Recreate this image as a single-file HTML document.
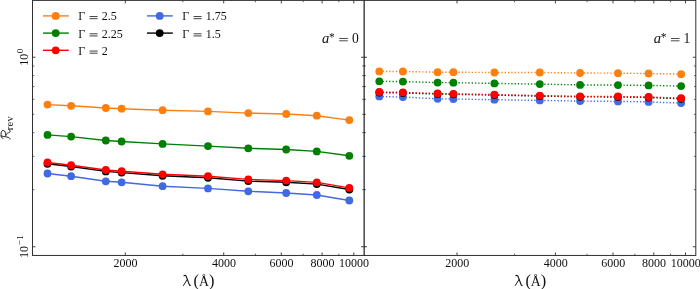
<!DOCTYPE html>
<html><head><meta charset="utf-8"><title>chart</title>
<style>html,body{margin:0;padding:0;background:#fff;}body{width:700px;height:289px;overflow:hidden;}svg{display:block;will-change:transform;}text{font-family:"Liberation Serif",serif;fill:#111;}</style>
</head><body>
<svg width="700" height="289" viewBox="0 0 700 289">
<rect x="0" y="0" width="700" height="289" fill="#ffffff"/>
<polyline points="47.5,104.6 71.1,105.8 105.8,108.0 121.6,108.7 162.6,110.2 208.0,111.4 248.3,113.1 286.2,114.0 316.8,115.7 349.3,120.1" fill="none" stroke="#ff7f0e" stroke-width="1.4"/>
<circle cx="47.5" cy="104.6" r="3.9" fill="#ff7f0e"/>
<circle cx="71.1" cy="105.8" r="3.9" fill="#ff7f0e"/>
<circle cx="105.8" cy="108.0" r="3.9" fill="#ff7f0e"/>
<circle cx="121.6" cy="108.7" r="3.9" fill="#ff7f0e"/>
<circle cx="162.6" cy="110.2" r="3.9" fill="#ff7f0e"/>
<circle cx="208.0" cy="111.4" r="3.9" fill="#ff7f0e"/>
<circle cx="248.3" cy="113.1" r="3.9" fill="#ff7f0e"/>
<circle cx="286.2" cy="114.0" r="3.9" fill="#ff7f0e"/>
<circle cx="316.8" cy="115.7" r="3.9" fill="#ff7f0e"/>
<circle cx="349.3" cy="120.1" r="3.9" fill="#ff7f0e"/>
<polyline points="47.5,134.9 71.1,136.6 105.8,140.5 121.6,141.5 162.6,143.9 208.0,146.1 248.3,148.3 286.2,149.5 316.8,151.4 349.3,155.8" fill="none" stroke="#008000" stroke-width="1.4"/>
<circle cx="47.5" cy="134.9" r="3.9" fill="#008000"/>
<circle cx="71.1" cy="136.6" r="3.9" fill="#008000"/>
<circle cx="105.8" cy="140.5" r="3.9" fill="#008000"/>
<circle cx="121.6" cy="141.5" r="3.9" fill="#008000"/>
<circle cx="162.6" cy="143.9" r="3.9" fill="#008000"/>
<circle cx="208.0" cy="146.1" r="3.9" fill="#008000"/>
<circle cx="248.3" cy="148.3" r="3.9" fill="#008000"/>
<circle cx="286.2" cy="149.5" r="3.9" fill="#008000"/>
<circle cx="316.8" cy="151.4" r="3.9" fill="#008000"/>
<circle cx="349.3" cy="155.8" r="3.9" fill="#008000"/>
<polyline points="47.5,173.5 71.1,176.2 105.8,181.3 121.6,182.3 162.6,186.2 208.0,188.4 248.3,191.3 286.2,193.0 316.8,195.0 349.3,200.5" fill="none" stroke="#4169e1" stroke-width="1.4"/>
<circle cx="47.5" cy="173.5" r="3.9" fill="#4169e1"/>
<circle cx="71.1" cy="176.2" r="3.9" fill="#4169e1"/>
<circle cx="105.8" cy="181.3" r="3.9" fill="#4169e1"/>
<circle cx="121.6" cy="182.3" r="3.9" fill="#4169e1"/>
<circle cx="162.6" cy="186.2" r="3.9" fill="#4169e1"/>
<circle cx="208.0" cy="188.4" r="3.9" fill="#4169e1"/>
<circle cx="248.3" cy="191.3" r="3.9" fill="#4169e1"/>
<circle cx="286.2" cy="193.0" r="3.9" fill="#4169e1"/>
<circle cx="316.8" cy="195.0" r="3.9" fill="#4169e1"/>
<circle cx="349.3" cy="200.5" r="3.9" fill="#4169e1"/>
<polyline points="47.5,163.8 71.1,166.5 105.8,171.4 121.6,172.6 162.6,175.8 208.0,177.8 248.3,181.1 286.2,182.3 316.8,184.1 349.3,189.5" fill="none" stroke="#000000" stroke-width="1.4"/>
<circle cx="47.5" cy="163.8" r="3.9" fill="#000000"/>
<circle cx="71.1" cy="166.5" r="3.9" fill="#000000"/>
<circle cx="105.8" cy="171.4" r="3.9" fill="#000000"/>
<circle cx="121.6" cy="172.6" r="3.9" fill="#000000"/>
<circle cx="162.6" cy="175.8" r="3.9" fill="#000000"/>
<circle cx="208.0" cy="177.8" r="3.9" fill="#000000"/>
<circle cx="248.3" cy="181.1" r="3.9" fill="#000000"/>
<circle cx="286.2" cy="182.3" r="3.9" fill="#000000"/>
<circle cx="316.8" cy="184.1" r="3.9" fill="#000000"/>
<circle cx="349.3" cy="189.5" r="3.9" fill="#000000"/>
<polyline points="47.5,162.5 71.1,165.2 105.8,170.0 121.6,171.2 162.6,174.3 208.0,176.2 248.3,179.4 286.2,180.6 316.8,182.4 349.3,187.9" fill="none" stroke="#ff0000" stroke-width="1.4"/>
<circle cx="47.5" cy="162.5" r="3.9" fill="#ff0000"/>
<circle cx="71.1" cy="165.2" r="3.9" fill="#ff0000"/>
<circle cx="105.8" cy="170.0" r="3.9" fill="#ff0000"/>
<circle cx="121.6" cy="171.2" r="3.9" fill="#ff0000"/>
<circle cx="162.6" cy="174.3" r="3.9" fill="#ff0000"/>
<circle cx="208.0" cy="176.2" r="3.9" fill="#ff0000"/>
<circle cx="248.3" cy="179.4" r="3.9" fill="#ff0000"/>
<circle cx="286.2" cy="180.6" r="3.9" fill="#ff0000"/>
<circle cx="316.8" cy="182.4" r="3.9" fill="#ff0000"/>
<circle cx="349.3" cy="187.9" r="3.9" fill="#ff0000"/>
<polyline points="379.3,71.4 402.9,71.5 437.6,72.2 453.4,72.2 494.4,72.5 539.8,72.5 580.1,73.0 618.0,73.2 648.6,73.5 681.1,74.2" fill="none" stroke="#ff7f0e" stroke-width="1.4" stroke-dasharray="1.3 2.0"/>
<circle cx="379.3" cy="71.4" r="3.9" fill="#ff7f0e"/>
<circle cx="402.9" cy="71.5" r="3.9" fill="#ff7f0e"/>
<circle cx="437.6" cy="72.2" r="3.9" fill="#ff7f0e"/>
<circle cx="453.4" cy="72.2" r="3.9" fill="#ff7f0e"/>
<circle cx="494.4" cy="72.5" r="3.9" fill="#ff7f0e"/>
<circle cx="539.8" cy="72.5" r="3.9" fill="#ff7f0e"/>
<circle cx="580.1" cy="73.0" r="3.9" fill="#ff7f0e"/>
<circle cx="618.0" cy="73.2" r="3.9" fill="#ff7f0e"/>
<circle cx="648.6" cy="73.5" r="3.9" fill="#ff7f0e"/>
<circle cx="681.1" cy="74.2" r="3.9" fill="#ff7f0e"/>
<polyline points="379.3,81.3 402.9,81.6 437.6,82.6 453.4,82.7 494.4,83.4 539.8,84.1 580.1,84.9 618.0,85.1 648.6,85.4 681.1,86.1" fill="none" stroke="#008000" stroke-width="1.4" stroke-dasharray="1.3 2.0"/>
<circle cx="379.3" cy="81.3" r="3.9" fill="#008000"/>
<circle cx="402.9" cy="81.6" r="3.9" fill="#008000"/>
<circle cx="437.6" cy="82.6" r="3.9" fill="#008000"/>
<circle cx="453.4" cy="82.7" r="3.9" fill="#008000"/>
<circle cx="494.4" cy="83.4" r="3.9" fill="#008000"/>
<circle cx="539.8" cy="84.1" r="3.9" fill="#008000"/>
<circle cx="580.1" cy="84.9" r="3.9" fill="#008000"/>
<circle cx="618.0" cy="85.1" r="3.9" fill="#008000"/>
<circle cx="648.6" cy="85.4" r="3.9" fill="#008000"/>
<circle cx="681.1" cy="86.1" r="3.9" fill="#008000"/>
<polyline points="379.3,96.4 402.9,97.1 437.6,98.8 453.4,99.0 494.4,99.7 539.8,100.4 580.1,101.1 618.0,101.4 648.6,101.9 681.1,103.1" fill="none" stroke="#4169e1" stroke-width="1.4" stroke-dasharray="1.3 2.0"/>
<circle cx="379.3" cy="96.4" r="3.9" fill="#4169e1"/>
<circle cx="402.9" cy="97.1" r="3.9" fill="#4169e1"/>
<circle cx="437.6" cy="98.8" r="3.9" fill="#4169e1"/>
<circle cx="453.4" cy="99.0" r="3.9" fill="#4169e1"/>
<circle cx="494.4" cy="99.7" r="3.9" fill="#4169e1"/>
<circle cx="539.8" cy="100.4" r="3.9" fill="#4169e1"/>
<circle cx="580.1" cy="101.1" r="3.9" fill="#4169e1"/>
<circle cx="618.0" cy="101.4" r="3.9" fill="#4169e1"/>
<circle cx="648.6" cy="101.9" r="3.9" fill="#4169e1"/>
<circle cx="681.1" cy="103.1" r="3.9" fill="#4169e1"/>
<polyline points="379.3,92.5 402.9,93.0 437.6,94.0 453.4,94.3 494.4,95.1 539.8,96.1 580.1,96.8 618.0,97.0 648.6,97.5 681.1,98.8" fill="none" stroke="#000000" stroke-width="1.4" stroke-dasharray="1.3 2.0"/>
<circle cx="379.3" cy="92.5" r="3.9" fill="#000000"/>
<circle cx="402.9" cy="93.0" r="3.9" fill="#000000"/>
<circle cx="437.6" cy="94.0" r="3.9" fill="#000000"/>
<circle cx="453.4" cy="94.3" r="3.9" fill="#000000"/>
<circle cx="494.4" cy="95.1" r="3.9" fill="#000000"/>
<circle cx="539.8" cy="96.1" r="3.9" fill="#000000"/>
<circle cx="580.1" cy="96.8" r="3.9" fill="#000000"/>
<circle cx="618.0" cy="97.0" r="3.9" fill="#000000"/>
<circle cx="648.6" cy="97.5" r="3.9" fill="#000000"/>
<circle cx="681.1" cy="98.8" r="3.9" fill="#000000"/>
<polyline points="379.3,92.0 402.9,92.4 437.6,93.5 453.4,93.8 494.4,94.6 539.8,95.6 580.1,96.3 618.0,96.5 648.6,97.0 681.1,98.2" fill="none" stroke="#ff0000" stroke-width="1.4" stroke-dasharray="1.3 2.0"/>
<circle cx="379.3" cy="92.0" r="3.9" fill="#ff0000"/>
<circle cx="402.9" cy="92.4" r="3.9" fill="#ff0000"/>
<circle cx="437.6" cy="93.5" r="3.9" fill="#ff0000"/>
<circle cx="453.4" cy="93.8" r="3.9" fill="#ff0000"/>
<circle cx="494.4" cy="94.6" r="3.9" fill="#ff0000"/>
<circle cx="539.8" cy="95.6" r="3.9" fill="#ff0000"/>
<circle cx="580.1" cy="96.3" r="3.9" fill="#ff0000"/>
<circle cx="618.0" cy="96.5" r="3.9" fill="#ff0000"/>
<circle cx="648.6" cy="97.0" r="3.9" fill="#ff0000"/>
<circle cx="681.1" cy="98.2" r="3.9" fill="#ff0000"/>
<line x1="32.50" y1="57.25" x2="35.50" y2="57.25" stroke="#303030" stroke-width="0.9"/>
<line x1="361.00" y1="57.25" x2="364.00" y2="57.25" stroke="#303030" stroke-width="0.9"/>
<line x1="32.50" y1="246.75" x2="35.50" y2="246.75" stroke="#303030" stroke-width="0.9"/>
<line x1="361.00" y1="246.75" x2="364.00" y2="246.75" stroke="#303030" stroke-width="0.9"/>
<line x1="32.50" y1="189.70" x2="34.30" y2="189.70" stroke="#303030" stroke-width="0.75"/>
<line x1="362.20" y1="189.70" x2="364.00" y2="189.70" stroke="#303030" stroke-width="0.75"/>
<line x1="32.50" y1="156.34" x2="34.30" y2="156.34" stroke="#303030" stroke-width="0.75"/>
<line x1="362.20" y1="156.34" x2="364.00" y2="156.34" stroke="#303030" stroke-width="0.75"/>
<line x1="32.50" y1="132.66" x2="34.30" y2="132.66" stroke="#303030" stroke-width="0.75"/>
<line x1="362.20" y1="132.66" x2="364.00" y2="132.66" stroke="#303030" stroke-width="0.75"/>
<line x1="32.50" y1="114.30" x2="34.30" y2="114.30" stroke="#303030" stroke-width="0.75"/>
<line x1="362.20" y1="114.30" x2="364.00" y2="114.30" stroke="#303030" stroke-width="0.75"/>
<line x1="32.50" y1="99.29" x2="34.30" y2="99.29" stroke="#303030" stroke-width="0.75"/>
<line x1="362.20" y1="99.29" x2="364.00" y2="99.29" stroke="#303030" stroke-width="0.75"/>
<line x1="32.50" y1="86.60" x2="34.30" y2="86.60" stroke="#303030" stroke-width="0.75"/>
<line x1="362.20" y1="86.60" x2="364.00" y2="86.60" stroke="#303030" stroke-width="0.75"/>
<line x1="32.50" y1="75.61" x2="34.30" y2="75.61" stroke="#303030" stroke-width="0.75"/>
<line x1="362.20" y1="75.61" x2="364.00" y2="75.61" stroke="#303030" stroke-width="0.75"/>
<line x1="32.50" y1="65.92" x2="34.30" y2="65.92" stroke="#303030" stroke-width="0.75"/>
<line x1="362.20" y1="65.92" x2="364.00" y2="65.92" stroke="#303030" stroke-width="0.75"/>
<line x1="364.00" y1="57.25" x2="367.00" y2="57.25" stroke="#303030" stroke-width="0.9"/>
<line x1="692.80" y1="57.25" x2="695.80" y2="57.25" stroke="#303030" stroke-width="0.9"/>
<line x1="364.00" y1="246.75" x2="367.00" y2="246.75" stroke="#303030" stroke-width="0.9"/>
<line x1="692.80" y1="246.75" x2="695.80" y2="246.75" stroke="#303030" stroke-width="0.9"/>
<line x1="364.00" y1="189.70" x2="365.80" y2="189.70" stroke="#303030" stroke-width="0.75"/>
<line x1="694.00" y1="189.70" x2="695.80" y2="189.70" stroke="#303030" stroke-width="0.75"/>
<line x1="364.00" y1="156.34" x2="365.80" y2="156.34" stroke="#303030" stroke-width="0.75"/>
<line x1="694.00" y1="156.34" x2="695.80" y2="156.34" stroke="#303030" stroke-width="0.75"/>
<line x1="364.00" y1="132.66" x2="365.80" y2="132.66" stroke="#303030" stroke-width="0.75"/>
<line x1="694.00" y1="132.66" x2="695.80" y2="132.66" stroke="#303030" stroke-width="0.75"/>
<line x1="364.00" y1="114.30" x2="365.80" y2="114.30" stroke="#303030" stroke-width="0.75"/>
<line x1="694.00" y1="114.30" x2="695.80" y2="114.30" stroke="#303030" stroke-width="0.75"/>
<line x1="364.00" y1="99.29" x2="365.80" y2="99.29" stroke="#303030" stroke-width="0.75"/>
<line x1="694.00" y1="99.29" x2="695.80" y2="99.29" stroke="#303030" stroke-width="0.75"/>
<line x1="364.00" y1="86.60" x2="365.80" y2="86.60" stroke="#303030" stroke-width="0.75"/>
<line x1="694.00" y1="86.60" x2="695.80" y2="86.60" stroke="#303030" stroke-width="0.75"/>
<line x1="364.00" y1="75.61" x2="365.80" y2="75.61" stroke="#303030" stroke-width="0.75"/>
<line x1="694.00" y1="75.61" x2="695.80" y2="75.61" stroke="#303030" stroke-width="0.75"/>
<line x1="364.00" y1="65.92" x2="365.80" y2="65.92" stroke="#303030" stroke-width="0.75"/>
<line x1="694.00" y1="65.92" x2="695.80" y2="65.92" stroke="#303030" stroke-width="0.75"/>
<line x1="125.30" y1="252.45" x2="125.30" y2="255.45" stroke="#303030" stroke-width="0.9"/>
<line x1="125.30" y1="0.40" x2="125.30" y2="3.40" stroke="#303030" stroke-width="0.9"/>
<line x1="223.71" y1="252.45" x2="223.71" y2="255.45" stroke="#303030" stroke-width="0.9"/>
<line x1="223.71" y1="0.40" x2="223.71" y2="3.40" stroke="#303030" stroke-width="0.9"/>
<line x1="281.27" y1="252.45" x2="281.27" y2="255.45" stroke="#303030" stroke-width="0.9"/>
<line x1="281.27" y1="0.40" x2="281.27" y2="3.40" stroke="#303030" stroke-width="0.9"/>
<line x1="322.11" y1="252.45" x2="322.11" y2="255.45" stroke="#303030" stroke-width="0.9"/>
<line x1="322.11" y1="0.40" x2="322.11" y2="3.40" stroke="#303030" stroke-width="0.9"/>
<line x1="353.79" y1="252.45" x2="353.79" y2="255.45" stroke="#303030" stroke-width="0.9"/>
<line x1="353.79" y1="0.40" x2="353.79" y2="3.40" stroke="#303030" stroke-width="0.9"/>
<line x1="182.86" y1="253.65" x2="182.86" y2="255.45" stroke="#303030" stroke-width="0.75"/>
<line x1="182.86" y1="0.40" x2="182.86" y2="2.20" stroke="#303030" stroke-width="0.75"/>
<line x1="255.39" y1="253.65" x2="255.39" y2="255.45" stroke="#303030" stroke-width="0.75"/>
<line x1="255.39" y1="0.40" x2="255.39" y2="2.20" stroke="#303030" stroke-width="0.75"/>
<line x1="303.16" y1="253.65" x2="303.16" y2="255.45" stroke="#303030" stroke-width="0.75"/>
<line x1="303.16" y1="0.40" x2="303.16" y2="2.20" stroke="#303030" stroke-width="0.75"/>
<line x1="338.84" y1="253.65" x2="338.84" y2="255.45" stroke="#303030" stroke-width="0.75"/>
<line x1="338.84" y1="0.40" x2="338.84" y2="2.20" stroke="#303030" stroke-width="0.75"/>
<line x1="457.00" y1="252.45" x2="457.00" y2="255.45" stroke="#303030" stroke-width="0.9"/>
<line x1="457.00" y1="0.40" x2="457.00" y2="3.40" stroke="#303030" stroke-width="0.9"/>
<line x1="555.41" y1="252.45" x2="555.41" y2="255.45" stroke="#303030" stroke-width="0.9"/>
<line x1="555.41" y1="0.40" x2="555.41" y2="3.40" stroke="#303030" stroke-width="0.9"/>
<line x1="612.97" y1="252.45" x2="612.97" y2="255.45" stroke="#303030" stroke-width="0.9"/>
<line x1="612.97" y1="0.40" x2="612.97" y2="3.40" stroke="#303030" stroke-width="0.9"/>
<line x1="653.81" y1="252.45" x2="653.81" y2="255.45" stroke="#303030" stroke-width="0.9"/>
<line x1="653.81" y1="0.40" x2="653.81" y2="3.40" stroke="#303030" stroke-width="0.9"/>
<line x1="685.49" y1="252.45" x2="685.49" y2="255.45" stroke="#303030" stroke-width="0.9"/>
<line x1="685.49" y1="0.40" x2="685.49" y2="3.40" stroke="#303030" stroke-width="0.9"/>
<line x1="514.56" y1="253.65" x2="514.56" y2="255.45" stroke="#303030" stroke-width="0.75"/>
<line x1="514.56" y1="0.40" x2="514.56" y2="2.20" stroke="#303030" stroke-width="0.75"/>
<line x1="587.09" y1="253.65" x2="587.09" y2="255.45" stroke="#303030" stroke-width="0.75"/>
<line x1="587.09" y1="0.40" x2="587.09" y2="2.20" stroke="#303030" stroke-width="0.75"/>
<line x1="634.86" y1="253.65" x2="634.86" y2="255.45" stroke="#303030" stroke-width="0.75"/>
<line x1="634.86" y1="0.40" x2="634.86" y2="2.20" stroke="#303030" stroke-width="0.75"/>
<line x1="670.54" y1="253.65" x2="670.54" y2="255.45" stroke="#303030" stroke-width="0.75"/>
<line x1="670.54" y1="0.40" x2="670.54" y2="2.20" stroke="#303030" stroke-width="0.75"/>
<rect x="32.5" y="0.4" width="663.3" height="255.04999999999998" fill="none" stroke="#303030" stroke-width="1.0"/>
<line x1="364.15" y1="0.40" x2="364.15" y2="255.45" stroke="#111" stroke-width="1.15"/>
<text x="125.6" y="267.0" font-size="12" text-anchor="middle">2000</text>
<text x="224.0" y="267.0" font-size="12" text-anchor="middle">4000</text>
<text x="281.6" y="267.0" font-size="12" text-anchor="middle">6000</text>
<text x="322.4" y="267.0" font-size="12" text-anchor="middle">8000</text>
<text x="354.1" y="267.0" font-size="12" text-anchor="middle">10000</text>
<text x="457.3" y="267.0" font-size="12" text-anchor="middle">2000</text>
<text x="555.7" y="267.0" font-size="12" text-anchor="middle">4000</text>
<text x="613.3" y="267.0" font-size="12" text-anchor="middle">6000</text>
<text x="654.1" y="267.0" font-size="12" text-anchor="middle">8000</text>
<text x="685.8" y="267.0" font-size="12" text-anchor="middle">10000</text>
<g transform="translate(27.5,56.8) rotate(-90)"><text x="0" y="0" font-size="12" text-anchor="middle">10<tspan dy="-4.3" dx="0.4" font-size="9.2" letter-spacing="0.7">0</tspan></text></g>
<g transform="translate(27.5,246.2) rotate(-90)"><text x="0" y="0" font-size="12" text-anchor="middle">10<tspan dy="-4.3" dx="0.4" font-size="9.2" letter-spacing="0.7">−1</tspan></text></g>
<g transform="translate(0.0,0)" fill="none" stroke="#111" stroke-linecap="round" stroke-linejoin="round"><path d="M184.0,275.7 C185.2,275.1 185.9,275.5 186.4,276.9 L189.3,284.6 C189.5,285.2 189.9,285.5 190.4,285.3" stroke-width="1.15"/><path d="M187.2,279.5 L183.5,285.5" stroke-width="0.95"/></g>
<text x="193.6" y="285.7" font-size="16.4">(</text>
<text x="198.9" y="285.6" font-size="13.8">Å</text>
<text x="209.0" y="285.7" font-size="16.4">)</text>
<g transform="translate(331.8,0)" fill="none" stroke="#111" stroke-linecap="round" stroke-linejoin="round"><path d="M184.0,275.7 C185.2,275.1 185.9,275.5 186.4,276.9 L189.3,284.6 C189.5,285.2 189.9,285.5 190.4,285.3" stroke-width="1.15"/><path d="M187.2,279.5 L183.5,285.5" stroke-width="0.95"/></g>
<text x="525.4" y="285.7" font-size="16.4">(</text>
<text x="530.7" y="285.6" font-size="13.8">Å</text>
<text x="540.8" y="285.7" font-size="16.4">)</text>
<g transform="translate(10.4,128) rotate(-90)"><g transform="translate(-11.3,0)" fill="none" stroke="#111" stroke-width="0.9" stroke-linecap="round" stroke-linejoin="round"><path d="M0.2,-0.4 C1.3,-0.1 1.9,-1.4 2.3,-3.6 L3.3,-9.1"/><path d="M0.8,-7.4 C1.1,-8.9 2.5,-9.4 4.6,-9.4 C7.3,-9.4 8.9,-8.6 8.9,-7.2 C8.9,-5.6 6.6,-4.6 3.5,-4.5"/><path d="M4.4,-4.6 C5.9,-4.1 6.3,-2.3 6.9,-1.0 C7.4,0.2 8.6,0.3 9.5,-1.3"/></g><text x="-2.3" y="2.3" font-size="10.6" letter-spacing="0.25">rev</text></g>
<text x="322.0" y="42.6" font-size="14.6" font-style="italic">a</text>
<text x="329.1" y="41.1" font-size="11.6">*</text>
<rect x="339.20" y="37.98" width="8.60" height="0.75" fill="#111"/>
<rect x="339.20" y="40.48" width="8.60" height="0.75" fill="#111"/>
<text x="351.9" y="42.6" font-size="13.6">0</text>
<text x="653.7" y="42.6" font-size="14.6" font-style="italic">a</text>
<text x="660.8" y="41.1" font-size="11.6">*</text>
<rect x="670.90" y="37.98" width="8.60" height="0.75" fill="#111"/>
<rect x="670.90" y="40.48" width="8.60" height="0.75" fill="#111"/>
<text x="683.6" y="42.6" font-size="13.6">1</text>
<line x1="43.00" y1="15.90" x2="68.80" y2="15.90" stroke="#ff7f0e" stroke-width="1.4"/>
<circle cx="55.7" cy="15.9" r="3.9" fill="#ff7f0e"/>
<text x="78.3" y="20.3" font-size="12">Γ</text>
<rect x="89.60" y="16.25" width="8.00" height="0.8" fill="#111"/>
<rect x="89.60" y="18.35" width="8.00" height="0.8" fill="#111"/>
<text x="101.7" y="20.3" font-size="12">2.5</text>
<line x1="43.00" y1="33.10" x2="68.80" y2="33.10" stroke="#008000" stroke-width="1.4"/>
<circle cx="55.7" cy="33.1" r="3.9" fill="#008000"/>
<text x="78.3" y="37.5" font-size="12">Γ</text>
<rect x="89.60" y="33.45" width="8.00" height="0.8" fill="#111"/>
<rect x="89.60" y="35.55" width="8.00" height="0.8" fill="#111"/>
<text x="101.7" y="37.5" font-size="12">2.25</text>
<line x1="43.00" y1="50.30" x2="68.80" y2="50.30" stroke="#ff0000" stroke-width="1.4"/>
<circle cx="55.7" cy="50.3" r="3.9" fill="#ff0000"/>
<text x="78.3" y="54.7" font-size="12">Γ</text>
<rect x="89.60" y="50.65" width="8.00" height="0.8" fill="#111"/>
<rect x="89.60" y="52.75" width="8.00" height="0.8" fill="#111"/>
<text x="101.7" y="54.7" font-size="12">2</text>
<line x1="147.00" y1="15.90" x2="172.80" y2="15.90" stroke="#4169e1" stroke-width="1.4"/>
<circle cx="159.7" cy="15.9" r="3.9" fill="#4169e1"/>
<text x="182.3" y="20.3" font-size="12">Γ</text>
<rect x="193.60" y="16.25" width="8.00" height="0.8" fill="#111"/>
<rect x="193.60" y="18.35" width="8.00" height="0.8" fill="#111"/>
<text x="205.7" y="20.3" font-size="12">1.75</text>
<line x1="147.00" y1="33.10" x2="172.80" y2="33.10" stroke="#000000" stroke-width="1.4"/>
<circle cx="159.7" cy="33.1" r="3.9" fill="#000000"/>
<text x="182.3" y="37.5" font-size="12">Γ</text>
<rect x="193.60" y="33.45" width="8.00" height="0.8" fill="#111"/>
<rect x="193.60" y="35.55" width="8.00" height="0.8" fill="#111"/>
<text x="205.7" y="37.5" font-size="12">1.5</text>
</svg></body></html>
